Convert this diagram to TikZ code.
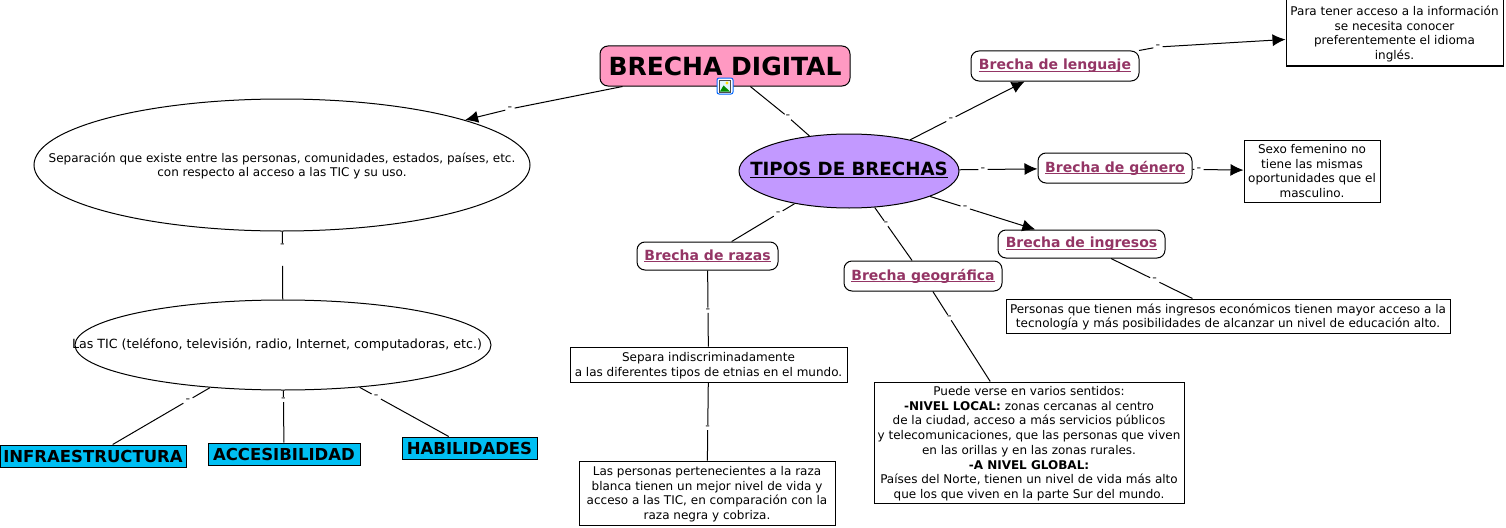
\documentclass[tikz,border=0pt]{standalone}
\usepackage{fontspec}
\setmainfont{DejaVu Sans}
\usetikzlibrary{arrows.meta,calc,shapes.geometric}
\definecolor{pinkbox}{HTML}{FF99C2}
\definecolor{purp}{HTML}{C299FF}
\definecolor{cyanbox}{HTML}{00BFF3}
\definecolor{lnkc}{HTML}{943565}
\newcommand{\txt}{\fontsize{12}{14.7}\selectfont}
\newcommand{\ulx}[1]{\setbox0=\hbox{#1}\leavevmode\rlap{\rule[-2.2pt]{\wd0}{1.2pt}}\box0}
\newcommand{\upx}{\rule{0pt}{11.5pt}}
\tikzset{
  x=1pt,y=-1pt,
  base/.style={draw=black,line width=1pt,inner sep=0pt,align=center,font=\txt},
  textbox/.style={base,fill=white},
  linkbox/.style={base,fill=white,rounded corners=8pt,text=lnkc,font=\fontsize{14}{16}\selectfont\bfseries},
  cyanlabel/.style={base,fill=cyanbox,font=\fontsize{16.5}{19}\selectfont\bfseries},
  oval/.style={base,ellipse},
  plain/.style={inner sep=0pt,align=center,font=\txt},
  lnk/.style={inner sep=0pt,minimum width=9pt,minimum height=5pt,font=\fontsize{11}{11}\selectfont\bfseries,text=black!55},
  conn/.style={draw=black,line width=1pt},
  arr/.style={conn,-{Latex[length=13pt,width=12pt]}},
}
\begin{document}
\begin{tikzpicture}
\useasboundingbox (0,0) rectangle (1506,527);
% main nodes
\node[base,fill=pinkbox,rounded corners=8pt,minimum width=250pt,minimum height=40pt,font=\fontsize{25}{28}\selectfont\bfseries] (bd) at (725,66) {BRECHA DIGITAL};
\node[oval,fill=purp,minimum width=220pt,minimum height=74pt] (tipos) at (849,171) {};
\node[plain,font=\fontsize{18.2}{20}\selectfont\bfseries] (tiposT) at (849,170) {\ulx{TIPOS DE BRECHAS}};
\node[oval,fill=white,minimum width=496pt,minimum height=132pt] (sep) at (282,165) {};
\node[plain] (sepT) at (282,165.8) {Separación que existe entre las personas, comunidades, estados, países, etc.\\con respecto al acceso a las TIC y su uso.};
\node[oval,fill=white,minimum width=416pt,minimum height=90pt] (tic) at (283,345) {};
\node[plain,font=\fontsize{12.65}{15}\selectfont] (ticT) at (277,344.5) {Las TIC (teléfono, televisión, radio, Internet, computadoras, etc.)};
% link boxes
\node[linkbox,minimum width=168pt,minimum height=30pt] (leng) at (1055,66) {\ulx{Brecha de lenguaje}};
\node[linkbox,minimum width=154pt,minimum height=30pt] (gen) at (1115,168) {\ulx{Brecha de género}};
\node[linkbox,minimum width=167pt,minimum height=28pt] (ing) at (1081.5,244) {\ulx{Brecha de ingresos}};
\node[linkbox,minimum width=158pt,minimum height=30pt] (geo) at (923,276) {\ulx{Brecha geográfica}};
\node[linkbox,minimum width=141pt,minimum height=28pt] (raz) at (707.5,256) {\ulx{Brecha de razas}};
% text boxes
\node[textbox,minimum width=217pt,minimum height=66pt] (para) at (1394.5,33) {\upx Para tener acceso a la información\\se necesita conocer\\preferentemente el idioma\\inglés.};
\node[textbox,minimum width=136pt,minimum height=62pt] (sexo) at (1312,171) {Sexo femenino no\\tiene las mismas\\oportunidades que el\\masculino.};
\node[textbox,minimum width=444pt,minimum height=34pt] (pers) at (1228,316) {\upx Personas que tienen más ingresos económicos tienen mayor acceso a la\\tecnología y más posibilidades de alcanzar un nivel de educación alto.};
\node[textbox,minimum width=310pt,minimum height=121pt] (puede) at (1029,442.5) {\upx Puede verse en varios sentidos:\\\textbf{-NIVEL LOCAL:} zonas cercanas al centro\\de la ciudad, acceso a más servicios públicos\\y telecomunicaciones, que las personas que viven\\en las orillas y en las zonas rurales.\\\textbf{-A NIVEL GLOBAL:}\\Países del Norte, tienen un nivel de vida más alto\\que los que viven en la parte Sur del mundo.};
\node[textbox,minimum width=277pt,minimum height=35pt] (separa) at (708.5,364.5) {\upx Separa indiscriminadamente\\a las diferentes tipos de etnias en el mundo.};
\node[textbox,minimum width=256pt,minimum height=64pt] (razap) at (707,493) {\upx Las personas pertenecientes a la raza\\blanca tienen un mejor nivel de vida y\\acceso a las TIC, en comparación con la\\raza negra y cobriza.};
% cyan labels
\node[cyanlabel,minimum width=186pt,minimum height=22pt] (inf) at (93,456) {INFRAESTRUCTURA};
\node[cyanlabel,minimum width=152pt,minimum height=22pt] (acc) at (284,454) {ACCESIBILIDAD};
\node[cyanlabel,minimum width=135pt,minimum height=22pt] (hab) at (469.5,448) {HABILIDADES};
% connector labels
\node[lnk] (l1) at (510,109) {-};
\node[lnk] (l2) at (788,117) {-};
\node[lnk] (l3) at ($(tipos)!.495!(leng)$) {-};
\node[lnk] (l4) at (1158,47) {-};
\node[lnk] (l5) at (983,169.5) {-};
\node[lnk] (l6) at (1199,169.5) {-};
\node[lnk] (l7) at ($(tipos)!.5!(ing)$) {-};
\node[lnk] (l8) at ($(ing)!.5!(pers)$) {-};
\node[lnk] (l9) at ($(tipos)!.5!(geo)$) {-};
\node[lnk] (l10) at ($(geo)!.25!(puede)$) {-};
\node[lnk] (l11) at ($(tipos)!.5!(raz)$) {-};
\node[lnk] (l12) at ($(raz)!.5!(separa)$) {-};
\node[lnk] (l13) at ($(separa)!.49!(razap)$) {-};
\node[lnk] (l14) at ($(sep)!.45!(tic)$) {-};
\coordinate (g14) at ($(sep)!.56!(tic)$);
\node[lnk] (l15) at ($(tic)!.5!(inf)$) {-};
\node[lnk] (l16) at ($(tic)!.5!(acc)$) {-};
\node[lnk] (l17) at ($(tic)!.5!(hab)$) {-};
% connectors
\draw[conn] (bd) -- (l1); \draw[arr] (l1) -- (sep);
\draw[conn] (bd) -- (l2); \draw[conn] (l2) -- (tipos);
\draw[conn] (tipos) -- (l3); \draw[arr] (l3) -- (leng);
\draw[conn] (leng) -- (l4); \draw[arr] (l4) -- (para);
\draw[conn] (tipos) -- (l5); \draw[arr] (l5) -- (gen);
\draw[conn] (gen) -- (l6); \draw[arr] (l6) -- (sexo);
\draw[conn] (tipos) -- (l7); \draw[arr] (l7) -- (ing);
\draw[conn] (ing) -- (l8); \draw[conn] (l8) -- (pers);
\draw[conn] (tipos) -- (l9); \draw[conn] (l9) -- (geo);
\draw[conn] (geo) -- (l10); \draw[conn] (l10) -- (puede);
\draw[conn] (tipos) -- (l11); \draw[conn] (l11) -- (raz);
\draw[conn] (raz) -- (l12); \draw[conn] (l12) -- (separa);
\draw[conn] (separa) -- (l13); \draw[conn] (l13) -- (razap);
\draw[conn] (sep) -- (l14); \draw[conn] (g14) -- (tic);
\draw[conn] (tic) -- (l15); \draw[conn] (l15) -- (inf);
\draw[conn] (tic) -- (l16); \draw[conn] (l16) -- (acc);
\draw[conn] (tic) -- (l17); \draw[conn] (l17) -- (hab);
% image icon
\begin{scope}[shift={(725,86)}]
\fill[white,draw=blue!60!cyan,line width=1pt,rounded corners=2pt] (-8,-8) rectangle (8,8);
\draw[black!70,line width=.6pt,fill=cyan!12] (-5.5,-6) rectangle (5.5,6);
\fill[green!55!black] (-5,5.5) -- (-1.5,-0.5) -- (5,5.5) -- cycle;
\fill[yellow!80!orange] (2,-3) circle (1.7pt);
\end{scope}
\end{tikzpicture}
\end{document}
